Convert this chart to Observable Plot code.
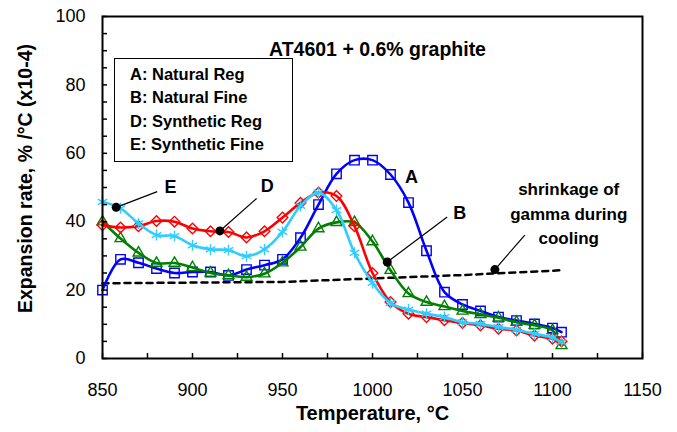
<!DOCTYPE html>
<html><head><meta charset="utf-8">
<script src="https://cdn.jsdelivr.net/npm/d3@7"></script>
<script src="https://cdn.jsdelivr.net/npm/@observablehq/plot@0.6"></script>
<style>
body{margin:0;background:#fff;}
#wrap{position:relative;width:677px;height:432px;font-family:"Liberation Sans",Arial,sans-serif;}
#legend{position:absolute;left:114px;top:58px;width:179px;height:104px;border:1px solid #000;background:#fff;box-sizing:border-box;padding:4px 0 0 15px;font-weight:bold;font-size:16.5px;line-height:23.3px;}
</style>
</head><body><div id="wrap"><div id="legend"></div></div>
<script>
const temps = [850,860,870,880,890,900,910,920,930,940,950,960,970,980,990,1000,1010,1020,1030,1040,1050,1060,1070,1080,1090,1100,1105];
const seriesA = [20,29,28,26.3,25,25.3,25.3,24.3,26,27.3,29,35.3,45,54,58,58,53.8,45.6,31.5,19.4,15.8,13.9,12.1,11.1,10.1,8.9,7.7];
const seriesB = [40,35.1,30.9,27.9,27.9,26.6,25,24.3,23.8,24.8,28,32.6,38,39.8,39.8,34.2,25.8,19,16.5,15.2,13.9,12.9,11.9,10.6,9.7,8.2,3.8];
const seriesD = [39,38.3,38.7,40.2,40,38,37.2,37,35.4,37.2,41.2,45.5,48.5,47.5,38.7,25,16.5,13.1,12.1,11.2,10.4,9.7,8.7,8.2,6.7,5.8,5.0];
const seriesE = [45.8,43.9,39.5,36.1,35.8,33.1,31.9,31.7,29.9,31.9,37,44.6,48.5,43.4,30.9,22.1,16.2,14.3,13.1,12.1,10.6,10.1,9.2,8.4,7.2,6.1,4.8];
const shrinkTemps = [850,900,950,1000,1050,1105];
const shrinkValues = [22,22.2,22.4,23.4,24.4,25.8];
const legendLabels = ["A: Natural Reg","B: Natural Fine","D: Synthetic Reg","E: Synthetic Fine"];
const xTicks = [850,900,950,1000,1050,1100,1150];
const xMinorTicks = [850,875,900,925,950,975,1000,1025,1050,1075,1100,1125,1150];
const yTicks = [0,20,40,60,80,100];
const yMinorTicks = [0,5,10,15,20,25,30,35,40,45,50,55,60,65,70,75,80,85,90,95,100];
const title = "AT4601 + 0.6% graphite";
const xTitle = "Temperature, °C";
const yTitle = "Expansion rate, % /°C (x10-4)";

const series = [
  {key:"A", values:seriesA, color:"#0000ff", symbol:"square2", r:6},
  {key:"B", values:seriesB, color:"#008000", symbol:"triangle2", r:5.2},
  {key:"D", values:seriesD, color:"#ff0000", symbol:"diamond2", r:4.8},
  {key:"E", values:seriesE, color:"#33ccff", symbol:"asterisk", r:5.2}
];
const toRows = vals => temps.map((t,i) => ({t, v: vals[i]}));
const shrinkRows = shrinkTemps.map((t,i) => ({t, v: shrinkValues[i]}));

const callouts = [
  {x1:857.6, y1:44.2, x2:880.4, y2:48.8},
  {x1:915.2, y1:37.3, x2:935.6, y2:46.8},
  {x1:1008.2, y1:28.2, x2:1041.5, y2:41.4},
  {x1:1068, y1:26.0, x2:1084.6, y2:36.1}
];
const letterLabels = [
  {x:887.8, y:50.2, text:"E"},
  {x:941.5, y:50.4, text:"D"},
  {x:1048.5, y:42.4, text:"B"},
  {x:1021.7, y:53.0, text:"A"}
];

document.getElementById("legend").innerHTML = legendLabels.map(s => `<div>${s}</div>`).join("");

const marks = [];
for (const s of series) {
  const rows = toRows(s.values);
  marks.push(Plot.line(rows, {x:"t", y:"v", stroke:s.color, strokeWidth:2.6, curve:"catmull-rom"}));
  marks.push(Plot.dot(rows, {x:"t", y:"v", symbol:s.symbol, r:s.r, stroke:s.color, strokeWidth:1.4, fill:"none"}));
}

const chart = Plot.plot({
  width: 677, height: 432,
  marginLeft: 102, marginRight: 35, marginTop: 16, marginBottom: 74,
  style: {fontFamily: "Liberation Sans, Arial, sans-serif", fontSize: "18px", background: "#fff", overflow: "visible"},
  x: {domain: [850, 1150]},
  y: {domain: [0, 100]},
  marks: [
    Plot.line(shrinkRows, {x:"t", y:"v", stroke:"black", strokeWidth:2.5, strokeDasharray:"6,5"}),
    ...marks,
    Plot.link(callouts, {x1:"x1", y1:"y1", x2:"x2", y2:"y2", stroke:"black", strokeWidth:1.2}),
    Plot.dot(callouts, {x:"x1", y:"y1", r:4.5, fill:"black"}),
    Plot.text(letterLabels, {x:"x", y:"y", text:"text", fontWeight:"bold", fontSize:18, fill:"black"}),
    Plot.text(["shrinkage of\ngamma during\ncooling"], {x:[1109], y:[42.9], text: d => d, fontWeight:"bold", fontSize:17, lineHeight:1.42, fill:"black"}),
    Plot.axisX({ticks:xMinorTicks, tickSize:-5, tickFormat:() => "", label:null, strokeWidth:1.5}),
    Plot.axisX({ticks:xTicks, tickSize:0, tickPadding:25, tickFormat:d => String(d), label:null, fontSize:18, fill:"black"}),
    Plot.axisY({ticks:yMinorTicks, tickSize:-5, tickFormat:() => "", label:null, strokeWidth:1.5}),
    Plot.axisY({ticks:yTicks, tickSize:0, tickPadding:17, tickFormat:d => String(d), label:null, fontSize:18, fill:"black"}),
    Plot.frame({stroke:"black", strokeWidth:2}),
    Plot.text([title], {frameAnchor:"top", dx:5, dy:26, fontWeight:"bold", fontSize:19.5, fill:"black"}),
    Plot.text([xTitle], {frameAnchor:"bottom", dy:61, fontWeight:"bold", fontSize:20, fill:"black"}),
    Plot.text([yTitle], {frameAnchor:"left", textAnchor:"middle", rotate:-90, dx:-77, dy:-9, fontWeight:"bold", fontSize:19.5, fill:"black"})
  ]
});
document.getElementById("wrap").insertBefore(chart, document.getElementById("legend"));
chart.style.position = "absolute"; chart.style.left = "0"; chart.style.top = "0";
</script>
</body></html>
